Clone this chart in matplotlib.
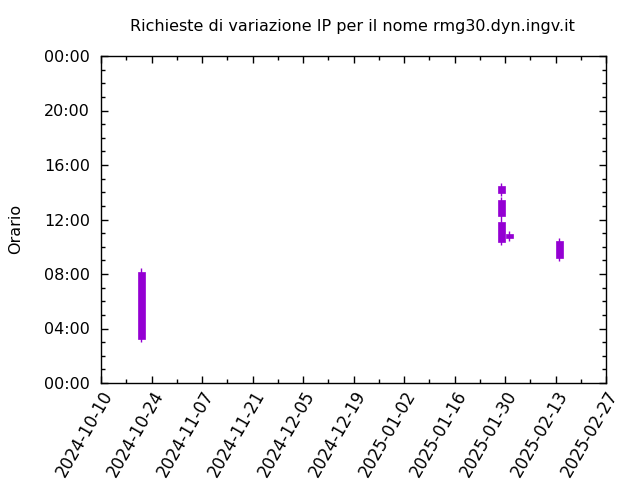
import datetime as dt
import matplotlib
matplotlib.use('Agg')
from matplotlib import pyplot as plt
import matplotlib.dates as mdates
from matplotlib.ticker import FixedLocator, MultipleLocator, FuncFormatter

# one candle per group of requests (box = first/last, whisker = min/max hour)
days = ['2024-10-21 05:00', '2025-01-29 00:00', '2025-01-29 00:00',
        '2025-01-29 00:00', '2025-01-31 05:00', '2025-02-14 02:00']
box_lo = [3.25, 13.94, 12.28, 10.37, 10.64, 9.17]
box_hi = [8.15, 14.48, 13.43, 11.82, 10.94, 10.42]
low = [3.0, 13.72, 11.85, 10.15, 10.42, 8.95]
high = [8.42, 14.68, 13.62, 11.85, 11.16, 10.64]

x_start = dt.datetime(2024, 10, 10)
x_end = dt.datetime(2025, 2, 27)

col = '#9400d3'
fig = plt.figure(figsize=(6.4, 4.8), dpi=100)
ax = fig.add_axes([101/640, 1 - 383/480, 505/640, 327/480])

xs = mdates.date2num([dt.datetime.strptime(d, '%Y-%m-%d %H:%M') for d in days])
ax.vlines(xs, low, high, color=col, lw=1)
ax.bar(xs, [h - l for h, l in zip(box_hi, box_lo)], bottom=box_lo, width=1.9,
       color=col, edgecolor=col, lw=0.5)

ax.set_xlim(x_start, x_end)
ax.set_ylim(0, 24)
major = [x_start + dt.timedelta(days=14 * i) for i in range(11)]
minor = [x_start + dt.timedelta(days=7 * i) for i in range(21)]
ax.xaxis.set_major_locator(FixedLocator(mdates.date2num(major)))
ax.xaxis.set_minor_locator(FixedLocator(mdates.date2num(minor)))
ax.xaxis.set_major_formatter(mdates.DateFormatter('%Y-%m-%d'))
ax.yaxis.set_major_locator(MultipleLocator(4))
ax.yaxis.set_minor_locator(MultipleLocator(1))
ax.yaxis.set_major_formatter(FuncFormatter(lambda v, p: '%02d:00' % (int(round(v)) % 24)))

ax.tick_params(which='both', direction='in', top=True, right=True, labelsize=11.5)
ax.tick_params(axis='x', labelsize=12)
ax.tick_params(which='major', length=5, width=1)
ax.tick_params(which='minor', length=3, width=1)
ax.tick_params(axis='y', pad=8)
for lab in ax.get_xticklabels():
    lab.set_rotation(60)
    lab.set_ha('right')
    lab.set_rotation_mode('anchor')
for s in ax.spines.values():
    s.set_linewidth(1)

ax.set_ylabel('Orario', fontsize=11.5)
ax.yaxis.set_label_coords(-0.155, 0.47)
fig.suptitle('Richieste di variazione IP per il nome rmg30.dyn.ingv.it',
             fontsize=11.5, x=352/640, y=1 - 27/480, va='center')

fig.savefig('out.png', dpi=100)
